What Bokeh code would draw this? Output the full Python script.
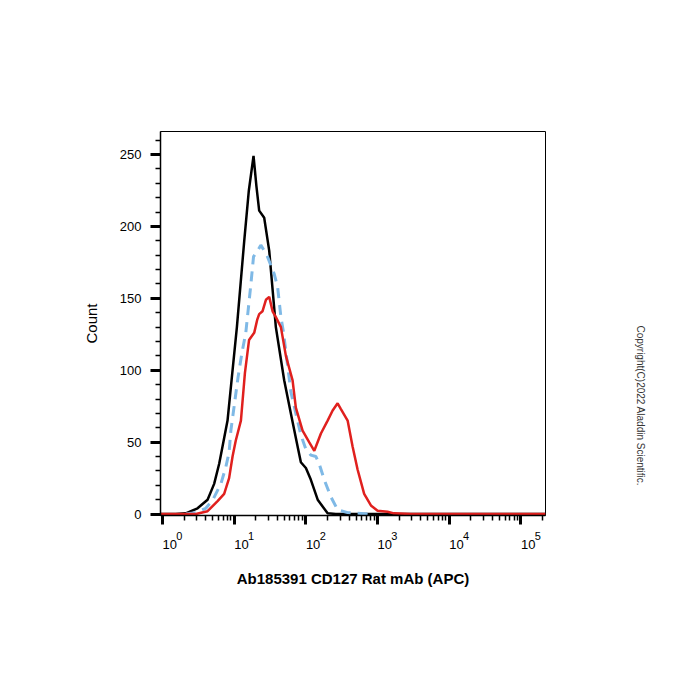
import math
from bokeh.plotting import figure
from bokeh.layouts import row
from bokeh.models import Range1d, FixedTicker, SingleIntervalTicker, LogAxis
from bokeh.core.properties import value
from bokeh.embed import file_html
from bokeh.resources import INLINE

# ---- data (fluorescence intensity, count) ----
black_x = [0.94, 1.53, 2.11, 3.08, 4.25, 5.25, 6.17, 6.87, 8.07, 9.27, 10.9, 13.8, 16.0, 18.6,
           20.4, 22.3, 26.2, 30.8, 38.1, 49.8, 61.7, 76.6, 85.1, 100, 117, 146, 201, 262, 220000]
black_y = [0, 0, 0.5, 4, 10, 21, 35, 47, 65, 95, 130, 190, 225, 249,
           228, 211, 206, 183, 130, 93, 70, 47, 36, 32, 24, 10, 0.5, 0, 0]

red_x = [0.94, 2.92, 4.25, 5.86, 7.24, 8.49, 9.48, 10.5, 12.4, 14.1, 16.1, 19.0, 20.9, 22.3,
         24.8, 27.7, 30.8, 34.3, 38.1, 44.8, 52.6, 65.2, 72.4, 89.9, 111, 131, 162, 201, 236,
         277, 308, 382, 448, 526, 650, 807, 1000, 1380, 1690, 2920, 220000]
red_y = [0, 0, 2, 9, 14, 25, 40, 51, 65, 98, 121, 126, 135, 139,
         141, 149, 151, 141, 137, 130, 110, 93, 74, 58, 50, 44, 56, 65, 72,
         77, 73, 65, 47, 31, 14, 6, 2.3, 1.6, 0.5, 0, 0]

blue_x = [2.11, 2.92, 4.02, 5.04, 6.52, 7.66, 8.49, 8.98, 11.3, 12.8, 14.5, 17.1, 18.6, 21.2,
          23.5, 28.6, 36.1, 40.3, 44.8, 48.8, 61.7, 72.4, 85.1, 100, 117, 138, 153, 180, 223,
          277, 382, 526, 807]
blue_y = [0, 1, 4, 10, 21, 33, 43, 58, 95, 112, 126, 160, 179, 183,
          187, 180, 167, 158, 137, 126, 85, 70, 55, 45, 41, 40, 35, 24, 12,
          3, 1, 0.5, 0]

x_tick_values = [1, 10, 100, 1000, 10000, 100000]
x_tick_bases = ["10", "10", "10", "10", "10", "10"]
x_tick_exponents = ["0", "1", "2", "3", "4", "5"]
y_tick_interval = 50

x_title = "Ab185391 CD127 Rat mAb (APC)"
y_title = "Count"
copyright_text = "Copyright(C)2022 Aladdin Scientific."

FONT = "Liberation Sans"
NB = "\u00a0"

p = figure(width=600, height=700, x_axis_type="log",
           x_range=Range1d(0.937, 2.2e5), y_range=Range1d(-1, 266),
           output_backend="svg", toolbar_location=None,
           min_border_left=160, min_border_right=55,
           min_border_top=131, min_border_bottom=185)

p.grid.visible = False
p.outline_line_color = "black"
p.outline_line_width = 1
p.background_fill_color = "white"
p.border_fill_color = "white"

p.line(black_x, black_y, line_color="black", line_width=2.5)
p.line(blue_x, blue_y, line_color="#7fb9e6", line_width=3, line_dash="10 7")
p.line(red_x, red_y, line_color="#e0201e", line_width=2.5)

# x axis (nearest the frame): ticks + raised exponents
minor = [m * d for d in [0.1, 1, 10, 100, 1000, 10000, 100000] for m in range(2, 10)]
xa = p.xaxis[0]
xa.ticker = FixedTicker(ticks=x_tick_values, minor_ticks=minor)
xa.major_label_overrides = {v: NB * 11 + e for v, e in zip(x_tick_values, x_tick_exponents)}
xa.major_label_text_font = FONT
xa.major_label_text_font_size = "11px"
xa.major_label_text_color = "black"
xa.major_label_standoff = 5
xa.major_tick_in = 0
xa.major_tick_out = 9
xa.major_tick_line_width = 3
xa.minor_tick_in = 0
xa.minor_tick_out = 5
xa.minor_tick_line_width = 1.5
xa.axis_line_width = 1.5

# second x axis below: the "10" bases and the title
xb = LogAxis(ticker=FixedTicker(ticks=x_tick_values, minor_ticks=[]))
xb.major_label_overrides = {v: NB * 4 + b for v, b in zip(x_tick_values, x_tick_bases)}
xb.major_label_text_font = FONT
xb.major_label_text_font_size = "13px"
xb.major_label_text_color = "black"
xb.major_label_standoff = -8
xb.major_tick_in = 0
xb.major_tick_out = 0
xb.minor_tick_in = 0
xb.minor_tick_out = 0
xb.axis_line_color = None
xb.major_tick_line_color = None
xb.minor_tick_line_color = None
xb.axis_label = x_title
xb.axis_label_text_font = FONT
xb.axis_label_text_font_style = "bold"
xb.axis_label_text_font_size = "15px"
xb.axis_label_standoff = 15
xb.axis_label_text_color = "black"
p.add_layout(xb, "below")

# y axis
ya = p.yaxis[0]
ya.ticker = SingleIntervalTicker(interval=y_tick_interval, num_minor_ticks=5)
ya.major_tick_in = 0
ya.major_tick_out = 10
ya.major_tick_line_width = 3
ya.minor_tick_in = 0
ya.minor_tick_out = 5
ya.minor_tick_line_width = 1.5
ya.axis_line_width = 1.5
ya.major_label_text_font = FONT
ya.major_label_text_font_size = "13px"
ya.major_label_text_color = "black"
ya.major_label_standoff = 9
ya.axis_label = y_title
ya.axis_label_text_font = FONT
ya.axis_label_text_font_style = "normal"
ya.axis_label_text_font_size = "15px"
ya.axis_label_standoff = 17
ya.axis_label_text_color = "black"

# copyright panel on the right
c = figure(width=100, height=700, x_range=Range1d(0, 100), y_range=Range1d(0, 700),
           output_backend="svg", toolbar_location=None, min_border=0,
           x_axis_location=None, y_axis_location=None, title=None)
c.grid.visible = False
c.outline_line_color = None
c.text(x=[40], y=[200], text=[copyright_text], angle=-math.pi / 2,
       text_align="center", text_baseline="middle", text_font=value(FONT),
       text_font_size="10px", text_color="#333333")

layout = row(p, c, spacing=0)
open("out.html", "w").write(file_html(layout, INLINE))
